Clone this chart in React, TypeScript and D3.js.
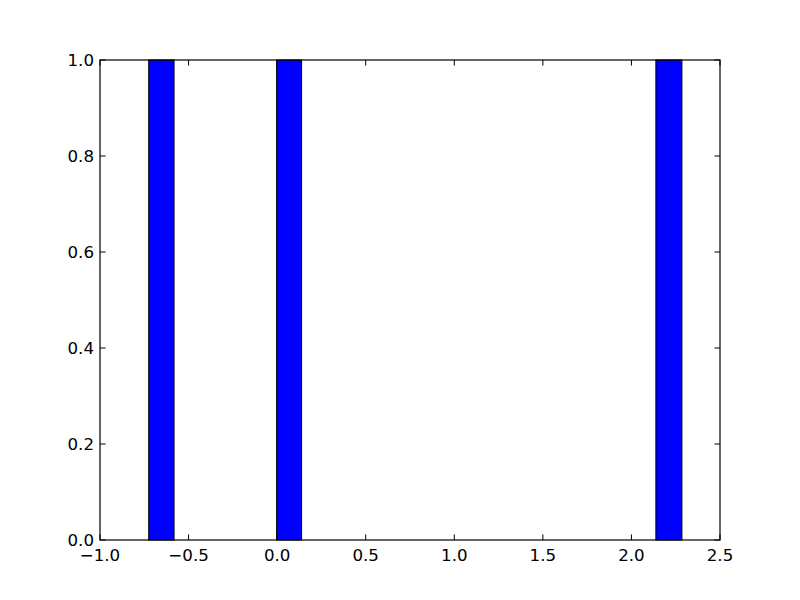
import React from "react";
import * as d3 from "d3";

const binLefts = [-0.725, -0.003, 2.138];
const binRights = [-0.582, 0.138, 2.285];
const counts = [1, 1, 1];
const xTicks = [-1.0, -0.5, 0.0, 0.5, 1.0, 1.5, 2.0, 2.5];
const yTicks = [0.0, 0.2, 0.4, 0.6, 0.8, 1.0];

const W = 800, H = 600;
const L = 100, R = 720, T = 60, B = 540;

export default function App() {
  const x = d3.scaleLinear().domain([-1, 2.5]).range([L, R]);
  const y = d3.scaleLinear().domain([0, 1]).range([B, T]);
  const tl = 5.6;
  const font = "'DejaVu Sans', sans-serif";
  const fs = 16.67;
  const fmt = (v: number) => d3.format(".1f")(v).replace("-", "\u2212");
  return (
    <div style={{ position: "fixed", left: 0, top: 0 }}>
      <svg width={W} height={H} style={{ display: "block", background: "#fff" }}>
        <rect x={0} y={0} width={W} height={H} fill="#fff" />
        {binLefts.map((l, i) => (
          <rect
            key={i}
            x={x(l)}
            y={y(counts[i])}
            width={x(binRights[i]) - x(l)}
            height={y(0) - y(counts[i])}
            fill="#0000ff"
            stroke="#000"
            strokeWidth={1}
          />
        ))}
        <rect x={L} y={T} width={R - L} height={B - T} fill="none" stroke="#000" strokeWidth={1.2} />
        {xTicks.map((t, i) => (
          <g key={"x" + i}>
            <line x1={x(t)} x2={x(t)} y1={B} y2={B - tl} stroke="#000" />
            <line x1={x(t)} x2={x(t)} y1={T} y2={T + tl} stroke="#000" />
            <text x={x(t)} y={B + 21} fontSize={fs} fontFamily={font} textAnchor="middle">
              {fmt(t)}
            </text>
          </g>
        ))}
        {yTicks.map((t, i) => (
          <g key={"y" + i}>
            <line x1={L} x2={L + tl} y1={y(t)} y2={y(t)} stroke="#000" />
            <line x1={R} x2={R - tl} y1={y(t)} y2={y(t)} stroke="#000" />
            <text x={L - 6} y={y(t)} dy="0.36em" fontSize={fs} fontFamily={font} textAnchor="end">
              {fmt(t)}
            </text>
          </g>
        ))}
      </svg>
    </div>
  );
}
